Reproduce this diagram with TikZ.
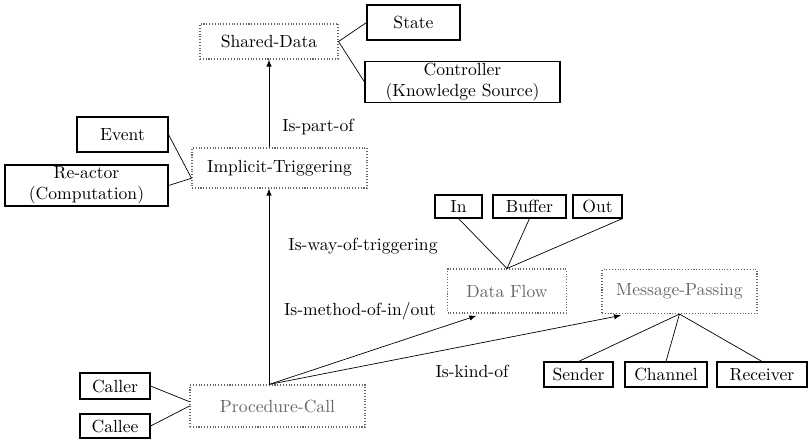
\documentclass[tikz,border=0pt]{standalone}
\usepackage{amsmath, amssymb}
\usetikzlibrary{positioning}
\usetikzlibrary{calc}

\begin{document}
\begin{tikzpicture}[x=0.02cm, y=-0.02cm, >=latex,
    part/.style={draw, rectangle, line width=0.6pt, inner sep=1pt, align=center, font=\normalsize},
    concept/.style={draw=black!60, densely dotted, line width=0.6pt, rectangle, inner sep=1pt, align=center},
    relname/.style={inner sep=1pt, font=\normalsize}]

        \useasboundingbox (0,0) rectangle (808,441);

        % the concepts (dotted boxes)
        \node[concept, minimum width=2.76cm, minimum height=0.70cm] (shared) at (269, 41.5) {Shared-Data};
        \node[concept, minimum width=3.5cm, minimum height=0.8cm] (implicit) at (279.5, 168) {Implicit-Triggering};
        \node[concept, minimum width=2.38cm, minimum height=0.88cm, text=black!60] (dataflow) at (507, 291) {Data Flow};
        \node[concept, minimum width=3.1cm, minimum height=0.88cm, text=black!60] (msgpass) at (679.5, 291.5) {Message-Passing};
        \node[concept, minimum width=3.5cm, minimum height=0.84cm, text=black!60] (proc) at (277.5, 406) {Procedure-Call};

        % the parts (solid boxes)
        \node[part, minimum width=1.86cm, minimum height=0.70cm] (state) at (413.5, 22.5) {State};
        \node[part, minimum width=3.9cm, minimum height=0.8cm] (ctrl) at (462.5, 82) {Controller\\(Knowledge Source)};
        \node[part, minimum width=1.82cm, minimum height=0.70cm] (event) at (122.5, 134.5) {Event};
        \node[part, minimum width=3.26cm, minimum height=0.78cm] (reactor) at (86.5, 185.5) {Re-actor\\(Computation)};
        \node[part, minimum width=0.94cm, minimum height=0.46cm] (indata) at (458.5, 206.5) {In};
        \node[part, minimum width=1.46cm, minimum height=0.46cm] (buffer) at (529.5, 206.5) {Buffer};
        \node[part, minimum width=0.98cm, minimum height=0.46cm] (outdata) at (597.5, 206.5) {Out};
        \node[part, minimum width=1.38cm, minimum height=0.5cm] (sender) at (578.5, 374.5) {Sender};
        \node[part, minimum width=1.64cm, minimum height=0.5cm] (channel) at (666, 374.5) {Channel};
        \node[part, minimum width=1.8cm, minimum height=0.5cm] (receiver) at (762, 374.5) {Receiver};
        \node[part, minimum width=1.4cm, minimum height=0.52cm] (caller) at (115, 386) {Caller};
        \node[part, minimum width=1.4cm, minimum height=0.48cm] (callee) at (115, 426) {Callee};

        % relation names
        \node[relname] (ispart) at (318, 127) {Is-part-of};
        \node[relname] (isway) at (363, 246) {Is-way-of-triggering};
        \node[relname] (ismethod) at (360, 311) {Is-method-of-in/out};
        \node[relname] (iskind) at (472, 371) {Is-kind-of};

        \coordinate (implin) at ($(implicit.south west)!0.25!(implicit.north west)$);

        \draw (shared.east) -- (state.west);
        \draw (shared.east) -- (ctrl.west);
        \draw (event.east) -- (implin);
        \draw (reactor.east) -- (implin);

        \draw (indata.south) -- (dataflow.north);
        \draw (buffer.south) -- (dataflow.north);
        \draw (outdata.south east) -- (dataflow.north);

        \draw (msgpass.south) -- (sender.north);
        \draw (msgpass.south) -- (channel.north);
        \draw (msgpass.south) -- (receiver.north);

        \draw (caller.east) -- ($(proc.south west)!0.6!(proc.north west)$);
        \draw (callee.east) -- ($(proc.south west)!0.5!(proc.north west)$);

        \draw[->] (implicit.north -| shared) -- (shared.south);
        \draw[->] (proc.north -| shared) -- (implicit.south -| shared);
        \draw[->, shorten >=4pt] (proc.north -| shared) -- ($(dataflow.south west)!0.3!(dataflow.south east)$);
        \draw[->, shorten >=4pt] (proc.north -| shared) -- ($(msgpass.south west)!0.17!(msgpass.south east)$);

      \end{tikzpicture}
\end{document}
